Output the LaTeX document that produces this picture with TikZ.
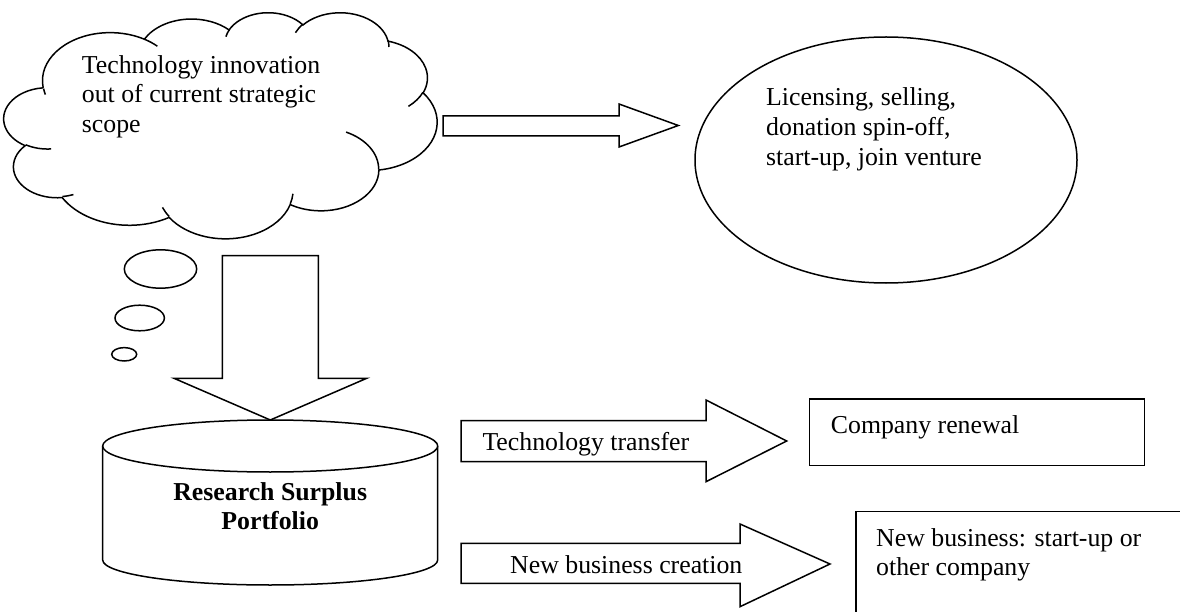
\documentclass[tikz,border=0pt]{standalone}
\usepackage{fontspec}
\setmainfont{Liberation Serif}
\usetikzlibrary{shapes.geometric}

% One bulge of the cloud outline: radii, start angle and sweep are given as
% true (geometric) angles; they are turned into the parametric angles TikZ uses.
\newcommand\cldarc[4]{arc[x radius=#1, y radius=#2,
  start angle={atan2((#1)*sin(#3),(#2)*cos(#3))},
  delta angle={(#4)+mod(atan2((#1)*sin((#3)+(#4)),(#2)*cos((#3)+(#4)))-atan2((#1)*sin(#3),(#2)*cos(#3))-(#4)+900,360)-180}]}

% Multi-line labels are anchored on the baseline of their last line.
\tikzset{
  shape line/.style={draw=black, line width=1.5bp, line join=miter, fill=white},
  label text/.style={font=\fontsize{25.8bp}{29.6bp}\selectfont, inner sep=0pt,
    align=left, anchor=base west},
}

\begin{document}
\begin{tikzpicture}[x=1bp, y=-1bp]
\path[use as bounding box] (0,0) rectangle (1180,612);
\clip (0,0) rectangle (1180,612);
\fill[white] (0,0) rectangle (1180,612);

% ---- thought cloud ----
\begin{scope}[shift={(4,12)}, xscale=433/432, yscale=226/432]
  \draw[shape line] (39.00,143.70)
    \cldarc{67.53}{91.90}{-190.4875}{123.7805}
    \cldarc{53.33}{72.67}{-144.1024}{89.9452}
    \cldarc{43.65}{59.45}{-145.8079}{99.7230}
    \cldarc{48.57}{65.95}{-130.9861}{117.2417}
    \cldarc{53.33}{72.73}{-78.7089}{109.0269}
    \cldarc{67.75}{92.20}{-46.2673}{130.2690}
    \cldarc{57.85}{78.67}{0.6250}{114.0333}
    \cldarc{67.52}{92.15}{22.4516}{115.1726}
    \cldarc{77.20}{105.43}{66.2426}{75.7110}
    \cldarc{43.60}{59.18}{-274.9421}{146.7356}
    \cldarc{43.45}{59.45}{-246.8285}{152.5189}
    -- cycle;
  \draw[shape line, fill=none]
    (46.93,261.77) \cldarc{43.45}{59.45}{86.7420}{26.4295}
    (69.28,348.99) \cldarc{43.60}{59.18}{73.6105}{11.4475}
    (164.78,390.90) \cldarc{67.52}{92.15}{137.6242}{14.0811}
    (288.27,347.51) \cldarc{67.52}{92.15}{6.4533}{15.9984}
    (341.29,229.54) \cldarc{57.85}{78.67}{-70.2924}{70.9174}
    (417.98,153.54) \cldarc{53.33}{72.73}{30.3180}{27.7515}
    (383.24,54.26) \cldarc{48.57}{65.95}{-13.7443}{14.8589}
    (290.78,39.52) \cldarc{48.57}{65.95}{-149.1815}{18.1954}
    (221.41,47.20) \cldarc{43.65}{59.45}{-163.4943}{17.6864}
    (140.00,51.92) \cldarc{67.53}{91.90}{-66.7070}{12.3194}
    (41.27,157.89) \cldarc{67.53}{91.90}{159.1255}{9.4833};
\end{scope}
\node[label text] (idea) at (81.7,132.5) {Technology innovation\\out of current strategic\\scope};

% ---- trailing bubbles ----
\draw[shape line] (160.5,269) ellipse [x radius=36.2, y radius=19.2];
\draw[shape line] (139.7,318) ellipse [x radius=24.7, y radius=12.8];
\draw[shape line] (124.2,354.3) ellipse [x radius=12.5, y radius=6.7];

% ---- outlets ellipse ----
\node[ellipse, shape line, minimum width=382bp, minimum height=246bp, inner sep=0pt] (outlets) at (886,160) {};
\node[label text] (outtxt) at (766,165.2) {Licensing, selling,\\donation spin-off,\\start-up, join venture};

% ---- block arrow to the ellipse ----
\draw[shape line] (443,116) -- (619,116) -- (619,104) -- (678.3,125.5)
  -- (619,147) -- (619,136) -- (443,136) -- cycle;

% ---- block arrow down to the portfolio ----
\draw[shape line] (222.3,255.7) -- (318.3,255.7) -- (318.3,378.3) -- (366.7,378.3)
  -- (270.3,420) -- (174,378.3) -- (222.3,378.3) -- cycle;

% ---- portfolio cylinder ----
\draw[shape line] (102.7,446) -- (102.7,560)
  arc[start angle=180, end angle=0, x radius=167.5, y radius=25] -- (437.7,446);
\draw[shape line] (270.2,446) ellipse [x radius=167.5, y radius=26];
\node[label text, align=center, anchor=base, font=\fontsize{25.8bp}{29.6bp}\selectfont\bfseries]
  (portfolio) at (270.2,529.6) {Research Surplus\\Portfolio};

% ---- technology transfer ----
\draw[shape line] (461,420.7) -- (706,420.7) -- (706,400) -- (786.7,441)
  -- (706,481.7) -- (706,461.7) -- (461,461.7) -- cycle;
\node[label text] (transfer) at (482.3,450) {Technology transfer};

% ---- new business creation ----
\draw[shape line] (461,543.3) -- (740,543.3) -- (740,524) -- (830,564)
  -- (740,606.7) -- (740,583.3) -- (461,583.3) -- cycle;
\node[label text] (creation) at (510,573.3) {New business creation};

% ---- result boxes ----
\draw[shape line] (809.3,399) rectangle (1144.3,465.7);
\node[label text] (renewal) at (830.7,433.3) {Company renewal};
\draw[shape line] (856,511.7) rectangle (1200,650);
\node[label text] (newbiz) at (876,575.6) {New business: start-up or\\other company};
\end{tikzpicture}
\end{document}
